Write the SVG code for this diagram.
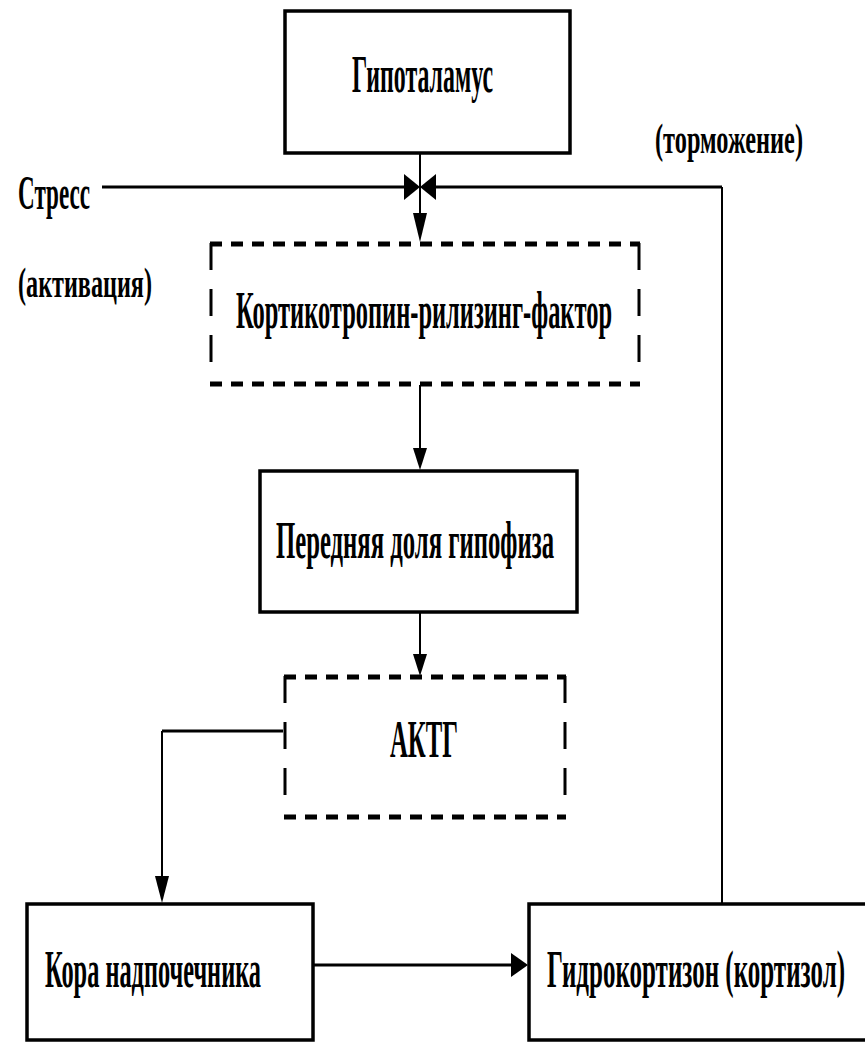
<svg xmlns="http://www.w3.org/2000/svg" width="865" height="1044" viewBox="0 0 865 1044">
<style>
.box{fill:#fff;stroke:#000;stroke-width:3.5}
.dh{stroke:#000;stroke-width:5;stroke-dasharray:12 9;fill:none}
.dv{stroke:#000;stroke-width:3;stroke-dasharray:27 19;fill:none}
.t{font-family:"Liberation Serif",serif;font-weight:bold;font-size:26px;fill:#000}
.s{font-size:21px}
.ln{stroke:#000;stroke-width:2;fill:none}
.lt{stroke:#000;stroke-width:3;fill:none}
</style>
<rect width="865" height="1044" fill="#fff"/>
<g id="connectors">
<line class="lt" x1="102" y1="187" x2="408" y2="187"/>
<polygon points="404,174 420,187 404,200"/>
<line class="lt" x1="432" y1="187" x2="722" y2="187"/>
<polygon points="436,174 420,187 436,200"/>
<line class="ln" x1="722" y1="187" x2="722" y2="903"/>
<line class="ln" x1="420" y1="153" x2="420" y2="225"/>
<polygon points="413,213 420,242 427,213"/>
<line class="ln" x1="420" y1="385" x2="420" y2="455"/>
<polygon points="413,448 420,470 427,448"/>
<line class="ln" x1="420" y1="612" x2="420" y2="660"/>
<polygon points="413,654 420,676 427,654"/>
<line class="lt" x1="283" y1="731" x2="162" y2="731"/>
<line class="ln" x1="162" y1="731" x2="162" y2="890"/>
<polygon points="155,876 162,903 169,876"/>
<line class="lt" x1="313" y1="965" x2="515" y2="965"/>
<polygon points="511,953 528,965 511,977"/>
</g>
<g id="n-hypothalamus">
<rect class="box" x="285" y="11" width="285" height="142"/>
<text class="t" transform="translate(352,92) scale(1,2)" textLength="141" lengthAdjust="spacingAndGlyphs">Гипоталамус</text>
</g>
<g id="n-stress">
<text class="t" transform="translate(18,209) scale(1,2)" style="font-size:24px" textLength="72" lengthAdjust="spacingAndGlyphs">Стресс</text>
</g>
<g id="n-activation">
<text class="t s" transform="translate(18,297) scale(1,2)" textLength="134" lengthAdjust="spacingAndGlyphs">(активация)</text>
</g>
<g id="n-inhibition">
<text class="t s" transform="translate(655,153) scale(1,2)" textLength="148" lengthAdjust="spacingAndGlyphs">(торможение)</text>
</g>
<g id="n-crf">
<line class="dh" x1="210" y1="244" x2="640" y2="244"/>
<line class="dh" x1="210" y1="384" x2="640" y2="384"/>
<line class="dv" x1="211" y1="243" x2="211" y2="380"/>
<line class="dv" x1="639" y1="243" x2="639" y2="380"/>
<text class="t" transform="translate(236,328) scale(1,2)" textLength="376" lengthAdjust="spacingAndGlyphs">Кортикотропин-рилизинг-фактор</text>
</g>
<g id="n-pituitary">
<rect class="box" x="260" y="471" width="317" height="141"/>
<text class="t" transform="translate(276,558) scale(1,2)" textLength="278" lengthAdjust="spacingAndGlyphs">Передняя доля гипофиза</text>
</g>
<g id="n-acth">
<line class="dh" x1="284" y1="677" x2="566" y2="677"/>
<line class="dh" x1="284" y1="817" x2="566" y2="817"/>
<line class="dv" x1="285" y1="676" x2="285" y2="800"/>
<line class="dv" x1="565" y1="676" x2="565" y2="800"/>
<text class="t" transform="translate(390,757) scale(1,2)" textLength="68" lengthAdjust="spacingAndGlyphs">АКТГ</text>
</g>
<g id="n-cortex">
<rect class="box" x="27" y="904" width="286" height="136"/>
<text class="t" transform="translate(45,987) scale(1,2)" textLength="216" lengthAdjust="spacingAndGlyphs">Кора надпочечника</text>
</g>
<g id="n-cortisol">
<rect class="box" x="529" y="904" width="345" height="136"/>
<text class="t" transform="translate(547,987) scale(1,2)" textLength="298" lengthAdjust="spacingAndGlyphs">Гидрокортизон  (кортизол)</text>
</g>
</svg>
